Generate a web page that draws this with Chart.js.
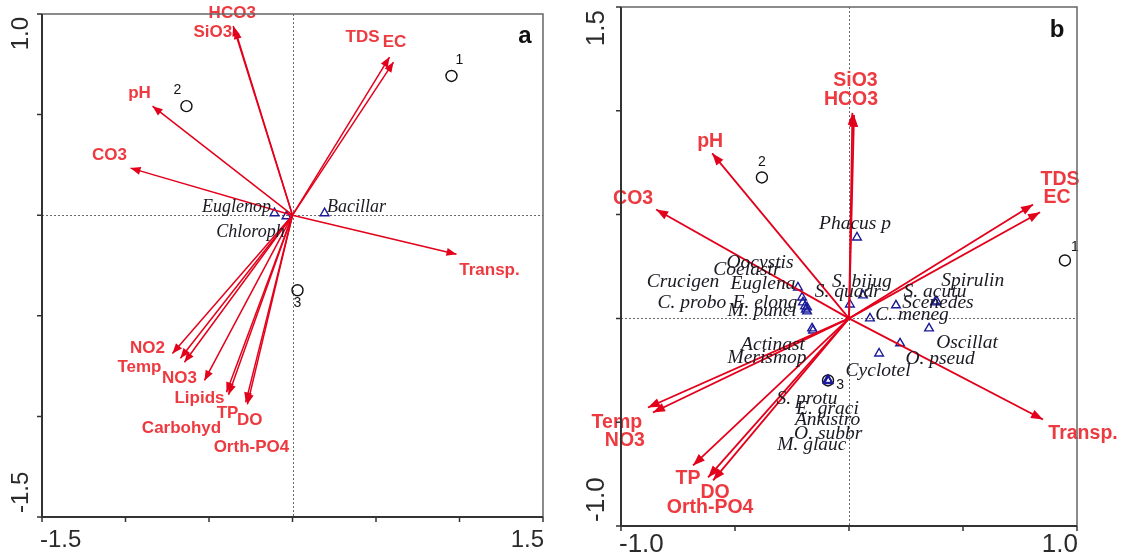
<!DOCTYPE html>
<html>
<head>
<meta charset="utf-8">
<script src="https://cdn.jsdelivr.net/npm/chart.js@4/dist/chart.umd.min.js"></script>
<style>
  body { margin: 0; background: #fff; }
  canvas { position: absolute; top: 0; }
  #panelA { left: 0; }
  #panelB { left: 560px; }
</style>
</head>
<body>
<canvas id="panelA" width="560" height="555"></canvas>
<canvas id="panelB" width="564" height="555"></canvas>
<script>
// ---- panel a : environmental arrows, sites, species ----
const envNamesA = ['HCO3', 'SiO3', 'pH', 'CO3', 'TDS', 'EC', 'Transp.', 'NO2', 'Temp', 'NO3', 'Lipids', 'Carbohyd', 'TP', 'DO', 'Orth-PO4'];
const envXA = [-0.355, -0.345, -0.838, -0.970, 0.581, 0.605, 0.982, -0.719, -0.671, -0.647, -0.527, -0.395, -0.383, -0.280, -0.270];
const envYA = [0.940, 0.925, 0.542, 0.234, 0.786, 0.761, -0.194, -0.687, -0.711, -0.731, -0.821, -0.880, -0.892, -0.930, -0.940];
const siteNamesA = ['1', '2', '3'];
const siteXA = [0.952, -0.635, 0.030];
const siteYA = [0.692, 0.542, -0.373];
const sppNamesA = ['Euglenop', 'Chloroph', 'Bacillar'];
const sppXA = [-0.108, -0.036, 0.192];
const sppYA = [0.010, -0.005, 0.010];
const xTicksA = [-1.5, -1, -0.5, 0, 0.5, 1, 1.5];
const yTicksA = [-1.5, -1, -0.5, 0, 0.5, 1];
const xTickLabelsA = ['-1.5', '1.5'];
const yTickLabelsA = ['-1.5', '1.0'];

// ---- panel b ----
const envNamesB = ['SiO3', 'HCO3', 'pH', 'CO3', 'TDS', 'EC', 'Transp.', 'Temp', 'NO3', 'TP', 'DO', 'Orth-PO4'];
const envXB = [0.015, 0.022, -0.600, -0.846, 0.807, 0.838, 0.851, -0.882, -0.860, -0.684, -0.618, -0.596];
const envYB = [0.990, 0.980, 0.795, 0.525, 0.549, 0.511, -0.487, -0.429, -0.453, -0.708, -0.766, -0.780];
const siteNamesB = ['1', '2', '3'];
const siteXB = [0.947, -0.382, -0.092];
const siteYB = [0.279, 0.679, -0.299];
const sppNamesB = ['Phacus p', 'Oocystis', 'Coelastr', 'Crucigen', 'Euglena', 'C. probo', 'E. elong', 'M. punci',
  'S. bijug', 'S. quadr', 'Actinast', 'Merismop', 'S. acutu', 'Spirulin', 'Scenedes', 'C. meneg', 'Oscillat',
  'O. pseud', 'Cyclotel', 'S. protu', 'E. graci', 'Ankistro', 'O. subbr', 'M. glauc'];
const sppXB = [0.035, -0.206, -0.202, -0.193, -0.224, -0.189, -0.184, -0.184, 0.061, 0.004, -0.162, -0.158,
  0.206, 0.385, 0.377, 0.092, 0.351, 0.224, 0.132, -0.092, -0.090, -0.094, -0.091, -0.093];
const sppYB = [0.390, 0.101, 0.077, 0.058, 0.149, 0.043, 0.053, 0.034, 0.111, 0.067, -0.048, -0.058,
  0.063, 0.082, 0.077, 0.000, -0.048, -0.120, -0.169, -0.299, -0.302, -0.297, -0.300, -0.298];
const xTicksB = [-1, -0.5, 0, 0.5, 1];
const yTicksB = [-1, -0.5, 0, 0.5, 1, 1.5];
const xTickLabelsB = ['-1.0', '1.0'];
const yTickLabelsB = ['-1.0', '1.5'];

// label nudges in pixels (layout only)
const envOffA = [[-1,-13],[-22,3],[-13,-13],[-21,-13],[-27,-20],[1,-20],[33,16],[-25,-5],[-41,9],[-5,16],[-5,18],[-45,36],[-1,19],[4,18],[4,43]];
const siteOffA = [[8,-16],[-9,-16],[0,13]];
const sppOffA = [[-38,-6],[-36,16],[32,-6]];
const envOffB = [[3,-32],[-3,-15],[-2,-12],[-23,-11],[27,-25],[17,-15],[40,14],[-31,15],[-28,28],[-5,13],[7,15],[-3,27]];
const siteOffB = [[10,-13],[0,-15],[12,5]];
const sppOffB = [[-2,-14],[-42,-35],[-56,-33],[-122,-24],[-35,-4],[-114,-7],[-42,-5],[-45,0],[-1,-13],[-2,-13],
  [-39,17],[-46,27],[39,-13],[36,-21],[3,0],[42,-4],[38,15],[40,16],[-1,17],[-21,18],[-1,28],[0,40],[0,53],[-16,65]];

const ARROW = '#e3001b';
const ARROW_TEXT = '#ec3a40';
const SPP = '#1b1b9a';
const INK = '#1a1a22';

function makeBiplot(p) {
  return {
    id: 'biplot',
    beforeDatasetsDraw(chart) {
      const { ctx, chartArea: ca, scales: { x, y } } = chart;
      const x0 = Math.round(x.getPixelForValue(0)) + 0.5;
      const y0 = Math.round(y.getPixelForValue(0)) + 0.5;
      ctx.save();
      ctx.strokeStyle = '#6a6a6a';
      ctx.lineWidth = 1;
      ctx.setLineDash([2, 2]);
      ctx.beginPath();
      ctx.moveTo(x0, ca.top); ctx.lineTo(x0, ca.bottom);
      ctx.moveTo(ca.left, y0); ctx.lineTo(ca.right, y0);
      ctx.stroke();
      ctx.restore();
    },
    afterDatasetsDraw(chart) {
      const { ctx, chartArea: ca, scales: { x, y } } = chart;
      ctx.save();
      // arrowheads + arrow labels
      chart.data.datasets.forEach((ds, i) => {
        if (ds.kind !== 'arrow') return;
        const pts = chart.getDatasetMeta(i).data;
        const a = pts[0], b = pts[1];
        const ang = Math.atan2(b.y - a.y, b.x - a.x);
        const L = p.headLen, W = p.headW;
        ctx.fillStyle = ARROW;
        ctx.beginPath();
        ctx.moveTo(b.x, b.y);
        ctx.lineTo(b.x - L * Math.cos(ang) - W * Math.sin(ang), b.y - L * Math.sin(ang) + W * Math.cos(ang));
        ctx.lineTo(b.x - L * Math.cos(ang) + W * Math.sin(ang), b.y - L * Math.sin(ang) - W * Math.cos(ang));
        ctx.closePath();
        ctx.fill();
      });
      ctx.textAlign = 'center';
      ctx.textBaseline = 'middle';
      chart.data.datasets.forEach((ds, i) => {
        if (ds.kind !== 'arrow') return;
        const b = chart.getDatasetMeta(i).data[1];
        const off = p.envOff[ds.idx];
        ctx.font = 'bold ' + p.envFont + 'px "Liberation Sans", Arial, sans-serif';
        ctx.fillStyle = ARROW_TEXT;
        ctx.fillText(ds.label, b.x + off[0], b.y + off[1]);
      });
      // species and site labels
      chart.data.datasets.forEach((ds, i) => {
        if (ds.kind !== 'spp' && ds.kind !== 'site') return;
        const pts = chart.getDatasetMeta(i).data;
        pts.forEach((pt, j) => {
          if (ds.kind === 'spp') {
            ctx.font = 'italic ' + p.sppFont + 'px "Liberation Serif", "Times New Roman", serif';
            ctx.fillStyle = INK;
            const off = p.sppOff[j];
            ctx.fillText(p.sppNames[j], pt.x + off[0], pt.y + off[1]);
          } else {
            ctx.font = '14px "Liberation Sans", Arial, sans-serif';
            ctx.fillStyle = '#111';
            const off = p.siteOff[j];
            ctx.fillText(p.siteNames[j], pt.x + off[0], pt.y + off[1]);
          }
        });
      });
      // frame
      ctx.lineWidth = 1.5;
      ctx.strokeStyle = '#666';
      ctx.beginPath();
      ctx.moveTo(ca.left, ca.top); ctx.lineTo(ca.right, ca.top); ctx.lineTo(ca.right, ca.bottom);
      ctx.stroke();
      ctx.lineWidth = 2;
      ctx.strokeStyle = '#333';
      ctx.beginPath();
      ctx.moveTo(ca.left, ca.top); ctx.lineTo(ca.left, ca.bottom); ctx.lineTo(ca.right, ca.bottom);
      ctx.stroke();
      // ticks
      ctx.lineWidth = 1.5;
      ctx.beginPath();
      p.xTicks.forEach(v => {
        const px = x.getPixelForValue(v);
        ctx.moveTo(px, ca.bottom); ctx.lineTo(px, ca.bottom + 5);
      });
      p.yTicks.forEach(v => {
        const py = y.getPixelForValue(v);
        ctx.moveTo(ca.left, py); ctx.lineTo(ca.left - 5, py);
      });
      ctx.stroke();
      // tick labels (ends only)
      ctx.fillStyle = '#2a2a2a';
      ctx.font = p.tickFont + 'px "Liberation Sans", Arial, sans-serif';
      ctx.textBaseline = 'middle';
      ctx.textAlign = 'left';
      ctx.fillText(p.xLabels[0], x.getPixelForValue(p.xTicks[0]) - 2, ca.bottom + p.xLabGap);
      ctx.textAlign = 'right';
      ctx.fillText(p.xLabels[1], x.getPixelForValue(p.xTicks[p.xTicks.length - 1]) + 1, ca.bottom + p.xLabGap);
      ctx.save();
      ctx.translate(ca.left - p.yLabGap, 0);
      ctx.rotate(-Math.PI / 2);
      ctx.textAlign = 'left';
      ctx.fillText(p.yLabels[0], -(y.getPixelForValue(p.yTicks[0]) - 4), 0);
      ctx.textAlign = 'right';
      ctx.fillText(p.yLabels[1], -(y.getPixelForValue(p.yTicks[p.yTicks.length - 1]) + 3), 0);
      ctx.restore();
      // panel letter
      ctx.font = 'bold 24px "Liberation Sans", Arial, sans-serif';
      ctx.fillStyle = '#111';
      ctx.textAlign = 'center';
      ctx.fillText(p.letter, ca.right - p.letterDx, ca.top + p.letterDy);
      ctx.restore();
    }
  };
}

function buildDatasets(names, xs, ys, sx, sy, wx, wy, arrowWidth) {
  const ds = names.map((n, i) => ({
    kind: 'arrow', idx: i, label: n,
    data: [{ x: 0, y: 0 }, { x: xs[i], y: ys[i] }],
    showLine: true, borderColor: ARROW, borderWidth: arrowWidth, pointRadius: 0
  }));
  ds.push({
    kind: 'spp', label: 'species',
    data: sx.map((v, i) => ({ x: v, y: sy[i] })),
    pointStyle: 'triangle', pointRadius: 5, borderColor: SPP, borderWidth: 1.4,
    backgroundColor: 'rgba(0,0,0,0)'
  });
  ds.push({
    kind: 'site', label: 'sites',
    data: wx.map((v, i) => ({ x: v, y: wy[i] })),
    pointStyle: 'circle', pointRadius: 5.5, borderColor: '#111', borderWidth: 1.4,
    backgroundColor: 'rgba(0,0,0,0)'
  });
  return ds;
}

function biplot(canvasId, datasets, xr, yr, padding, p) {
  new Chart(document.getElementById(canvasId), {
    type: 'scatter',
    data: { datasets },
    options: {
      responsive: false,
      animation: false,
      devicePixelRatio: 1,
      layout: { padding },
      plugins: { legend: { display: false }, tooltip: { enabled: false } },
      scales: {
        x: { type: 'linear', min: xr[0], max: xr[1], display: false },
        y: { type: 'linear', min: yr[0], max: yr[1], display: false }
      }
    },
    plugins: [makeBiplot(p)]
  });
}

biplot('panelA',
  buildDatasets(envNamesA, envXA, envYA, sppXA, sppYA, siteXA, siteYA, 1.5),
  [-1.5, 1.5], [-1.5, 1.0],
  { left: 42, top: 14, right: 17, bottom: 38 },
  {
    envOff: envOffA, siteOff: siteOffA, sppOff: sppOffA, sppNames: sppNamesA, siteNames: siteNamesA,
    envFont: 17, sppFont: 18, tickFont: 24, headLen: 10, headW: 4,
    xTicks: xTicksA, yTicks: yTicksA, xLabels: xTickLabelsA, yLabels: yTickLabelsA,
    xLabGap: 23, yLabGap: 21, letter: 'a', letterDx: 18, letterDy: 22
  });

biplot('panelB',
  buildDatasets(envNamesB, envXB, envYB, sppXB, sppYB, siteXB, siteYB, 1.8),
  [-1, 1], [-1, 1.5],
  { left: 61, top: 7, right: 47, bottom: 29 },
  {
    envOff: envOffB, siteOff: siteOffB, sppOff: sppOffB, sppNames: sppNamesB, siteNames: siteNamesB,
    envFont: 19.5, sppFont: 19.5, tickFont: 26, headLen: 12, headW: 4.5,
    xTicks: xTicksB, yTicks: yTicksB, xLabels: xTickLabelsB, yLabels: yTickLabelsB,
    xLabGap: 19, yLabGap: 24, letter: 'b', letterDx: 20, letterDy: 23
  });
</script>
</body>
</html>
